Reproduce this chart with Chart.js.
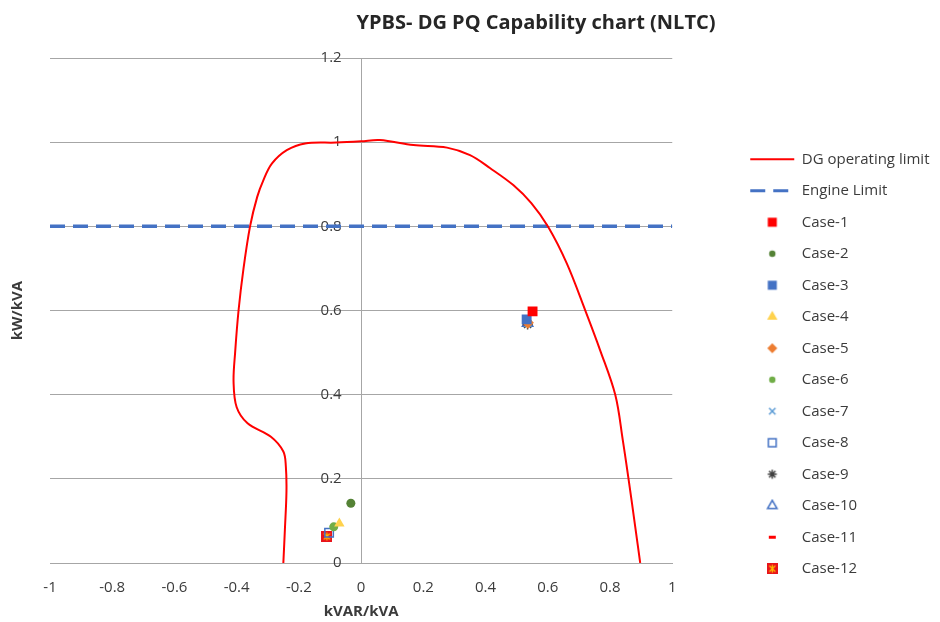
<!DOCTYPE html>
<html>
<head>
<meta charset="utf-8">
<title>YPBS- DG PQ Capability chart (NLTC)</title>
<script src="https://cdn.jsdelivr.net/npm/chart.js@4.4.0/dist/chart.umd.min.js"></script>
<style>
    html, body { margin: 0; padding: 0; background: #fff; overflow: hidden; }
    #wrap { position: relative; width: 940px; height: 622px; }
    #chartTitle {
        position: absolute; left: 286px; top: 10px; width: 500px; line-height: 24px;
        text-align: center; white-space: nowrap;
        font-family: "Open Sans", sans-serif; font-weight: bold; font-size: 20px; color: #262626;
    }
</style>
</head>
<body>
<div id="wrap">
    <div id="chartTitle">YPBS- DG PQ Capability chart (NLTC)</div>
    <canvas id="pqChart" width="940" height="622"></canvas>
</div>
<script>
// DG operating limit curve (kVAR/kVA, kW/kVA)
const dgLimitX = [-0.25, -0.245, -0.24, -0.242, -0.25, -0.29, -0.365, -0.40, -0.41, -0.405, -0.394, -0.378, -0.357, -0.334, -0.314, -0.287, -0.239, -0.18, -0.08, 0, 0.06, 0.168, 0.276, 0.35, 0.415, 0.489, 0.547, 0.601, 0.661, 0.72, 0.768, 0.817, 0.841, 0.86, 0.881, 0.897];
const dgLimitY = [0, 0.08, 0.17, 0.23, 0.265, 0.30, 0.332, 0.37, 0.43, 0.50, 0.60, 0.70, 0.80, 0.87, 0.91, 0.949, 0.981, 0.997, 0.999, 1.002, 1.005, 0.993, 0.987, 0.969, 0.938, 0.898, 0.855, 0.799, 0.712, 0.601, 0.506, 0.399, 0.292, 0.197, 0.086, 0];

// engine limit
const engineX = [-1, 1];
const engineY = [0.8, 0.8];

// operating cases
const caseNames = ["Case-1", "Case-2", "Case-3", "Case-4", "Case-5", "Case-6", "Case-7", "Case-8", "Case-9", "Case-10", "Case-11", "Case-12"];
const caseX = [0.551, -0.033, 0.532, -0.07, 0.536, -0.088, 0.536, -0.103, 0.535, 0.535, 0.532, -0.11];
const caseY = [0.598, 0.142, 0.579, 0.094, 0.571, 0.086, 0.569, 0.072, 0.567, 0.57, 0.566, 0.063];

// axis ticks
const xTickValues = [-1, -0.8, -0.6, -0.4, -0.2, 0, 0.2, 0.4, 0.6, 0.8, 1];
const xTickLabels = ["-1", "-0.8", "-0.6", "-0.4", "-0.2", "0", "0.2", "0.4", "0.6", "0.8", "1"];
const yTickValues = [0, 0.2, 0.4, 0.6, 0.8, 1, 1.2];
const yTickLabels = ["0", "0.2", "0.4", "0.6", "0.8", "1", "1.2"];

Chart.defaults.font.family = '"Open Sans", sans-serif';
const textColor = "#3b3b3b";

function makeIcon(size, draw) {
    const c = document.createElement("canvas");
    c.width = size;
    c.height = size;
    draw(c.getContext("2d"), size);
    return c;
}

const dashIcon = makeIcon(11, (ctx, s) => {
    ctx.fillStyle = "#FF0000";
    ctx.fillRect(2, s / 2 - 1.5, s - 4, 3);
});

const starSquareIcon = makeIcon(11, (ctx, s) => {
    ctx.fillStyle = "#E8141B";
    ctx.fillRect(0, 0, s, s);
    ctx.strokeStyle = "#FFC000";
    ctx.lineWidth = 1.2;
    ctx.beginPath();
    ctx.moveTo(2.5, 2.5); ctx.lineTo(s - 2.5, s - 2.5);
    ctx.moveTo(s - 2.5, 2.5); ctx.lineTo(2.5, s - 2.5);
    ctx.moveTo(s / 2, 1.5); ctx.lineTo(s / 2, s - 1.5);
    ctx.stroke();
});

const caseStyles = [
    { pointStyle: "rect", pointRadius: 7, backgroundColor: "#FF0000", borderColor: "#FF0000", borderWidth: 0, legendRadius: 6.4 },
    { pointStyle: "circle", pointRadius: 4.5, backgroundColor: "#548235", borderColor: "#548235", borderWidth: 0, legendRadius: 3.2 },
    { pointStyle: "rect", pointRadius: 7, backgroundColor: "#4472C4", borderColor: "#4472C4", borderWidth: 0, legendRadius: 6.4 },
    { pointStyle: "triangle", pointRadius: 6, backgroundColor: "#FFD24D", borderColor: "#FFD24D", borderWidth: 0, legendRadius: 6 },
    { pointStyle: "rectRot", pointRadius: 6, backgroundColor: "#ED7D31", borderColor: "#ED7D31", borderWidth: 0, legendRadius: 5 },
    { pointStyle: "circle", pointRadius: 4.5, backgroundColor: "#70AD47", borderColor: "#70AD47", borderWidth: 0, legendRadius: 3.2 },
    { pointStyle: "crossRot", pointRadius: 5, backgroundColor: "#5B9BD5", borderColor: "#5B9BD5", borderWidth: 1.5, legendRadius: 4.5 },
    { pointStyle: "rect", pointRadius: 6, backgroundColor: "rgba(255,255,255,0)", borderColor: "#4472C4", borderWidth: 1.5, legendRadius: 5.5 },
    { pointStyle: "star", pointRadius: 5, backgroundColor: "#404040", borderColor: "#404040", borderWidth: 1.5, legendRadius: 4.5 },
    { pointStyle: "triangle", pointRadius: 6, backgroundColor: "rgba(255,255,255,0)", borderColor: "#4472C4", borderWidth: 1.5, legendRadius: 5.5 },
    { pointStyle: dashIcon, pointRadius: 5, backgroundColor: "#FF0000", borderColor: "#FF0000", borderWidth: 0 },
    { pointStyle: starSquareIcon, pointRadius: 5, backgroundColor: "#E8141B", borderColor: "#E8141B", borderWidth: 0 }
];

// legend markers drawn once with the library's own point painter
function legendMarker(st) {
    if (typeof st.pointStyle !== "string") return st.pointStyle;
    return makeIcon(14, ctx => {
        ctx.fillStyle = st.backgroundColor;
        ctx.strokeStyle = st.borderColor;
        ctx.lineWidth = st.borderWidth;
        Chart.helpers.drawPoint(ctx, { pointStyle: st.pointStyle, radius: st.legendRadius, borderWidth: st.borderWidth, rotation: 0 }, 7, 7);
    });
}

const datasets = [
    {
        label: "DG operating limit",
        data: dgLimitX.map((x, i) => ({ x, y: dgLimitY[i] })),
        showLine: true,
        tension: 0.35,
        borderColor: "#FF0000",
        backgroundColor: "#FF0000",
        borderWidth: 2,
        pointRadius: 0,
        legendIcon: "line"
    },
    {
        label: "Engine Limit",
        data: engineX.map((x, i) => ({ x, y: engineY[i] })),
        showLine: true,
        borderColor: "#4472C4",
        backgroundColor: "#4472C4",
        borderWidth: 3.5,
        borderDash: [15, 8],
        pointRadius: 0,
        legendIcon: "line"
    },
    ...caseNames.map((name, i) => Object.assign({
        label: name,
        data: [{ x: caseX[i], y: caseY[i] }],
        legendIcon: legendMarker(caseStyles[i])
    }, caseStyles[i]))
];

new Chart(document.getElementById("pqChart"), {
    type: "scatter",
    data: { datasets },
    options: {
        responsive: false,
        animation: false,
        layout: { padding: { top: 58, left: 0, right: 0.5, bottom: 0 } },
        plugins: {
            title: { display: false },
            tooltip: { enabled: false },
            legend: {
                position: "right",
                align: "center",
                maxWidth: 300,
                // blank title only used as a spacer to push the entries down
                title: { display: true, text: " ", font: { size: 10 }, padding: { top: 36, bottom: 0 } },
                labels: {
                    usePointStyle: true,
                    pointStyleWidth: 44,
                    boxHeight: 9,
                    padding: 16.5,
                    color: textColor,
                    font: { size: 15 },
                    generateLabels: chart => chart.data.datasets.map((ds, i) => ({
                        text: ds.label,
                        datasetIndex: i,
                        pointStyle: ds.legendIcon,
                        fillStyle: ds.backgroundColor,
                        strokeStyle: ds.borderColor,
                        lineWidth: ds.legendIcon === "line" ? Math.min(ds.borderWidth, 3) : ds.borderWidth,
                        lineDash: ds.borderDash || [],
                        fontColor: textColor,
                        hidden: false
                    }))
                }
            }
        },
        scales: {
            x: {
                type: "linear",
                min: -1,
                max: 1,
                afterBuildTicks: s => { s.ticks = xTickValues.map(v => ({ value: v })); },
                afterFit: s => { s.height = 59; },
                ticks: {
                    callback: (v, i) => xTickLabels[i],
                    autoSkip: false,
                    maxRotation: 0,
                    padding: 15.6,
                    color: textColor,
                    font: { size: 15 }
                },
                grid: { display: false, drawTicks: false },
                border: { display: true, color: "#a6a6a6" },
                title: {
                    display: true,
                    text: "kVAR/kVA",
                    color: textColor,
                    font: { size: 15, weight: "bold" },
                    padding: { top: 8, bottom: 1 }
                }
            },
            y: {
                type: "linear",
                min: 0,
                max: 1.2,
                position: { x: 0 },
                afterBuildTicks: s => { s.ticks = yTickValues.map(v => ({ value: v })); },
                ticks: {
                    // labels sit on the axis line, so push them left with trailing spaces
                    callback: (v, i) => yTickLabels[i] + "     ",
                    color: textColor,
                    font: { size: 15 }
                },
                grid: { color: "#a6a6a6", drawTicks: false },
                border: { display: true, color: "#a6a6a6" }
            },
            yTitle: {
                type: "linear",
                position: "left",
                min: 0,
                max: 1.2,
                ticks: { display: false },
                grid: { display: false, drawTicks: false },
                border: { display: false },
                title: {
                    display: true,
                    text: "kW/kVA",
                    color: textColor,
                    font: { size: 15, weight: "bold" },
                    padding: { top: 9, bottom: 0 }
                },
                afterFit: s => { s.width = 50; }
            },
            yGap: {
                type: "linear",
                position: "right",
                min: 0,
                max: 1.2,
                ticks: { display: false },
                grid: { display: false, drawTicks: false },
                border: { display: false },
                afterFit: s => { s.width = 61.5; }
            }
        }
    }
});
</script>
</body>
</html>
